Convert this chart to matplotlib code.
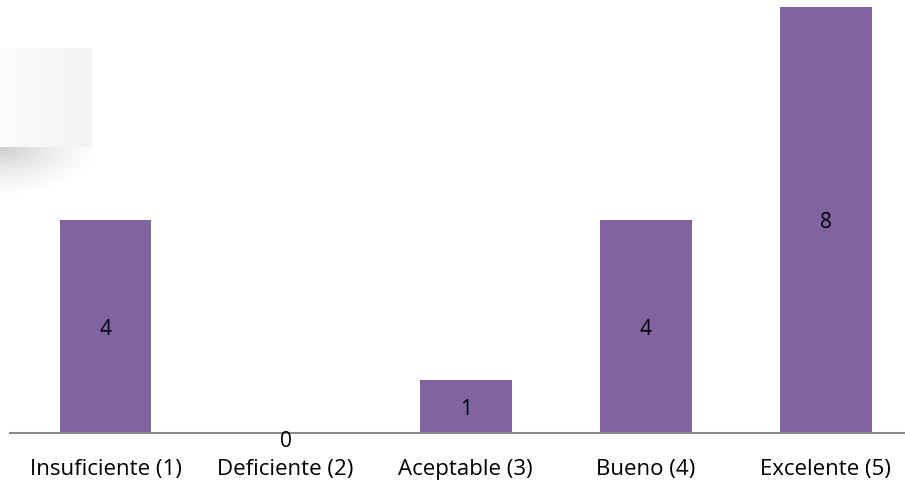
import numpy as np
import matplotlib
matplotlib.use("Agg")
import matplotlib.pyplot as plt

categories = ["Insuficiente (1)", "Deficiente (2)", "Aceptable (3)", "Bueno (4)", "Excelente (5)"]
counts = [4, 0, 1, 4, 8]

W, H = 905, 480
fig = plt.figure(figsize=(W / 100, H / 100), dpi=100)
plt.rcParams["font.family"] = ["Open Sans", "DejaVu Sans"]


def px_axes(x0, y0, x1, y1, **kw):
    """Axes placed by pixel box (top-left origin)."""
    return fig.add_axes([x0 / W, 1 - y1 / H, (x1 - x0) / W, (y1 - y0) / H], **kw)


# Decorative panel with drop shadow at the upper left
sh = px_axes(0, 147, 100, 200)
sh.axis("off")
yy, xx = np.mgrid[0:53, 0:100]
r = np.sqrt((xx / 100.0) ** 2 + (yy / 50.0) ** 2)
alpha = np.clip(1 - r, 0, 1) ** 1.4 * 0.26
img = np.zeros((53, 100, 4))
img[..., :3] = 0.25
img[..., 3] = alpha
sh.imshow(img, aspect="auto", interpolation="bilinear")

panel = px_axes(0, 48, 91, 147)
panel.axis("off")
grad = np.linspace(0.985, 0.95, 91)[None, :].repeat(10, axis=0)
panel.imshow(grad, cmap="gray", vmin=0, vmax=1, aspect="auto", interpolation="bilinear")

# Main bar chart
ax = px_axes(10, 0, 905, 433)
x = np.arange(len(categories))
ax.bar(x, counts, width=0.51, color="#8064A2", zorder=2)

spacing = 180.1
ax.set_xlim((10 - 105.5) / spacing, (905 - 105.5) / spacing)
ax.set_ylim(0, 433 / 53.25)
ax.patch.set_alpha(0)

for s in ["top", "right", "left"]:
    ax.spines[s].set_visible(False)
ax.spines["bottom"].set_color("#8c8c8c")
ax.spines["bottom"].set_linewidth(1.5)
ax.spines["bottom"].set_zorder(3)
ax.set_yticks([])
ax.set_xticks(x)
ax.set_xticklabels(categories, fontsize=16, color="#000000")
ax.tick_params(axis="x", length=0, pad=19)

for xi, v in zip(x, counts):
    dy = -2 if v > 0 else -6
    ax.annotate(str(v), (xi, v / 2), xytext=(0, dy), textcoords="offset points",
                ha="center", va="center", fontsize=15, color="#000000", zorder=4)

fig.savefig("out.png", dpi=100)
